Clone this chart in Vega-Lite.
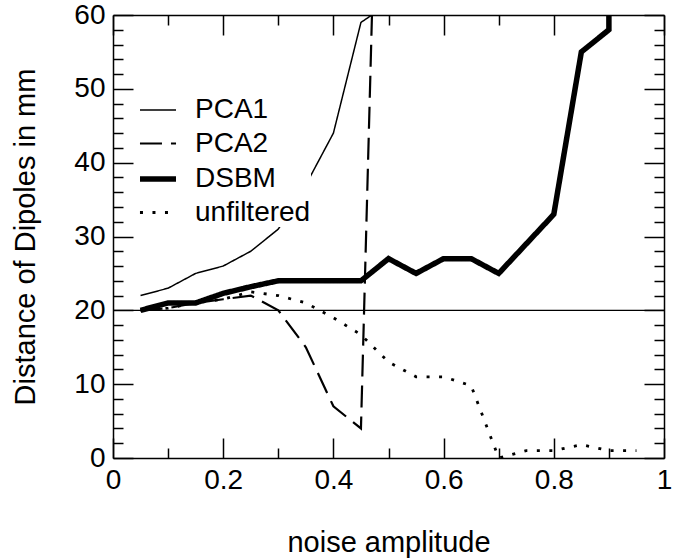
{
  "$schema": "https://vega.github.io/schema/vega-lite/v6.json",
  "width": 551,
  "height": 443,
  "autosize": "none",
  "padding": {"left": 113, "top": 15, "right": 19, "bottom": 100},
  "background": "white",
  "config": {
    "font": "Liberation Sans",
    "view": {"stroke": null},
    "axis": {
      "domainColor": "black",
      "domainWidth": 1.5,
      "tickColor": "black",
      "tickWidth": 1.5,
      "grid": false,
      "labelColor": "black",
      "labelFontSize": 28,
      "labelFlush": false,
      "titleColor": "black",
      "titleFontSize": 29,
      "titleFontWeight": "normal"
    }
  },
  "data": {
    "values": [
      {"s": "PCA1", "x": 0.05, "y": 22},
      {"s": "PCA1", "x": 0.1, "y": 23},
      {"s": "PCA1", "x": 0.15, "y": 25},
      {"s": "PCA1", "x": 0.2, "y": 26},
      {"s": "PCA1", "x": 0.25, "y": 28},
      {"s": "PCA1", "x": 0.3, "y": 31},
      {"s": "PCA1", "x": 0.35, "y": 37},
      {"s": "PCA1", "x": 0.4, "y": 44},
      {"s": "PCA1", "x": 0.45, "y": 59},
      {"s": "PCA1", "x": 0.47, "y": 60},
      {"s": "PCA2", "x": 0.05, "y": 20},
      {"s": "PCA2", "x": 0.1, "y": 20.3},
      {"s": "PCA2", "x": 0.15, "y": 21},
      {"s": "PCA2", "x": 0.2, "y": 21.5},
      {"s": "PCA2", "x": 0.25, "y": 22},
      {"s": "PCA2", "x": 0.3, "y": 20},
      {"s": "PCA2", "x": 0.35, "y": 15},
      {"s": "PCA2", "x": 0.4, "y": 7},
      {"s": "PCA2", "x": 0.45, "y": 4},
      {"s": "PCA2", "x": 0.47, "y": 60},
      {"s": "DSBM", "x": 0.05, "y": 20},
      {"s": "DSBM", "x": 0.1, "y": 21},
      {"s": "DSBM", "x": 0.15, "y": 21},
      {"s": "DSBM", "x": 0.2, "y": 22.3},
      {"s": "DSBM", "x": 0.25, "y": 23.2},
      {"s": "DSBM", "x": 0.3, "y": 24},
      {"s": "DSBM", "x": 0.35, "y": 24},
      {"s": "DSBM", "x": 0.4, "y": 24},
      {"s": "DSBM", "x": 0.45, "y": 24},
      {"s": "DSBM", "x": 0.5, "y": 27},
      {"s": "DSBM", "x": 0.55, "y": 25},
      {"s": "DSBM", "x": 0.6, "y": 27},
      {"s": "DSBM", "x": 0.65, "y": 27},
      {"s": "DSBM", "x": 0.7, "y": 25},
      {"s": "DSBM", "x": 0.75, "y": 29},
      {"s": "DSBM", "x": 0.8, "y": 33},
      {"s": "DSBM", "x": 0.85, "y": 55},
      {"s": "DSBM", "x": 0.9, "y": 58},
      {"s": "DSBM", "x": 0.9, "y": 60},
      {"s": "unfiltered", "x": 0.05, "y": 20},
      {"s": "unfiltered", "x": 0.1, "y": 20.3},
      {"s": "unfiltered", "x": 0.15, "y": 21},
      {"s": "unfiltered", "x": 0.2, "y": 21.5},
      {"s": "unfiltered", "x": 0.25, "y": 22.5},
      {"s": "unfiltered", "x": 0.3, "y": 22},
      {"s": "unfiltered", "x": 0.35, "y": 21},
      {"s": "unfiltered", "x": 0.4, "y": 19},
      {"s": "unfiltered", "x": 0.45, "y": 16.7},
      {"s": "unfiltered", "x": 0.5, "y": 13},
      {"s": "unfiltered", "x": 0.55, "y": 11},
      {"s": "unfiltered", "x": 0.6, "y": 11},
      {"s": "unfiltered", "x": 0.65, "y": 9.8},
      {"s": "unfiltered", "x": 0.7, "y": 0},
      {"s": "unfiltered", "x": 0.75, "y": 1},
      {"s": "unfiltered", "x": 0.8, "y": 1},
      {"s": "unfiltered", "x": 0.85, "y": 1.8},
      {"s": "unfiltered", "x": 0.9, "y": 1},
      {"s": "unfiltered", "x": 0.95, "y": 1}
    ]
  },
  "resolve": {"axis": {"x": "independent", "y": "independent"}},
  "layer": [
    {
      "data": {"values": [{"v": 20}]},
      "mark": {"type": "rule", "color": "black", "strokeWidth": 1.2},
      "encoding": {
        "y": {"field": "v", "type": "quantitative", "axis": null}
      }
    },
    {
      "mark": {"type": "line", "color": "black", "clip": true},
      "encoding": {
        "x": {
          "field": "x", "type": "quantitative",
          "scale": {"domain": [0, 1], "nice": false, "zero": false},
          "axis": {
            "orient": "bottom", "values": [0, 0.2, 0.4, 0.6, 0.8, 1],
            "tickSize": -20, "labelPadding": 28, "title": "noise amplitude",
            "titlePadding": 34, "labelExpr": "'' + datum.value", "offset": 0
          }
        },
        "y": {
          "field": "y", "type": "quantitative",
          "scale": {"domain": [0, 60], "nice": false},
          "axis": {
            "orient": "left", "values": [0, 10, 20, 30, 40, 50, 60],
            "tickSize": -20, "labelPadding": 28, "title": "Distance of Dipoles in mm",
            "titlePadding": 33, "offset": 0
          }
        },
        "detail": {"field": "s"},
        "order": {"value": null},
        "strokeDash": {
          "field": "s", "type": "nominal",
          "scale": {"domain": ["PCA1", "PCA2", "DSBM", "unfiltered"], "range": [[1, 0], [22, 9], [1, 0], [3, 9.5]]},
          "legend": {
            "orient": "none", "legendX": 24, "legendY": 76, "title": null,
            "symbolType": "stroke", "symbolSize": 1300, "symbolStrokeColor": "black",
            "labelFontSize": 28, "labelColor": "black", "labelOffset": 16,
            "rowPadding": 0, "fillColor": "white", "padding": 0
          }
        },
        "strokeWidth": {
          "field": "s", "type": "nominal",
          "scale": {"type": "ordinal", "domain": ["PCA1", "PCA2", "DSBM", "unfiltered"], "range": [1.5, 2.2, 5.5, 2.8]},
          "legend": {
            "orient": "none", "legendX": 24, "legendY": 76, "title": null,
            "symbolType": "stroke", "symbolSize": 1300, "symbolStrokeColor": "black",
            "labelFontSize": 28, "labelColor": "black", "labelOffset": 16,
            "rowPadding": 0, "fillColor": "white", "padding": 0
          }
        }
      }
    },
    {
      "mark": {"type": "line", "opacity": 0},
      "encoding": {
        "x": {"field": "x", "type": "quantitative",
          "axis": {"orient": "top", "values": [0, 0.2, 0.4, 0.6, 0.8, 1], "tickSize": -20, "labels": false, "title": null, "offset": 0}},
        "y": {"field": "y", "type": "quantitative",
          "axis": {"orient": "right", "values": [0, 10, 20, 30, 40, 50, 60], "tickSize": -20, "labels": false, "title": null, "offset": 0}},
        "detail": {"field": "s"}
      }
    },
    {
      "mark": {"type": "line", "opacity": 0},
      "encoding": {
        "x": {"field": "x", "type": "quantitative",
          "axis": {"orient": "bottom", "values": [0.1, 0.3, 0.5, 0.7, 0.9], "tickSize": -10, "labels": false, "domain": false, "title": null, "offset": 0}},
        "y": {"field": "y", "type": "quantitative",
          "axis": {"orient": "left", "values": [2, 4, 6, 8, 12, 14, 16, 18, 22, 24, 26, 28, 32, 34, 36, 38, 42, 44, 46, 48, 52, 54, 56, 58], "tickSize": -10, "labels": false, "domain": false, "title": null, "offset": 0}},
        "detail": {"field": "s"}
      }
    },
    {
      "mark": {"type": "line", "opacity": 0},
      "encoding": {
        "x": {"field": "x", "type": "quantitative",
          "axis": {"orient": "top", "values": [0.1, 0.3, 0.5, 0.7, 0.9], "tickSize": -10, "labels": false, "domain": false, "title": null, "offset": 0}},
        "y": {"field": "y", "type": "quantitative",
          "axis": {"orient": "right", "values": [2, 4, 6, 8, 12, 14, 16, 18, 22, 24, 26, 28, 32, 34, 36, 38, 42, 44, 46, 48, 52, 54, 56, 58], "tickSize": -10, "labels": false, "domain": false, "title": null, "offset": 0}},
        "detail": {"field": "s"}
      }
    }
  ]
}
